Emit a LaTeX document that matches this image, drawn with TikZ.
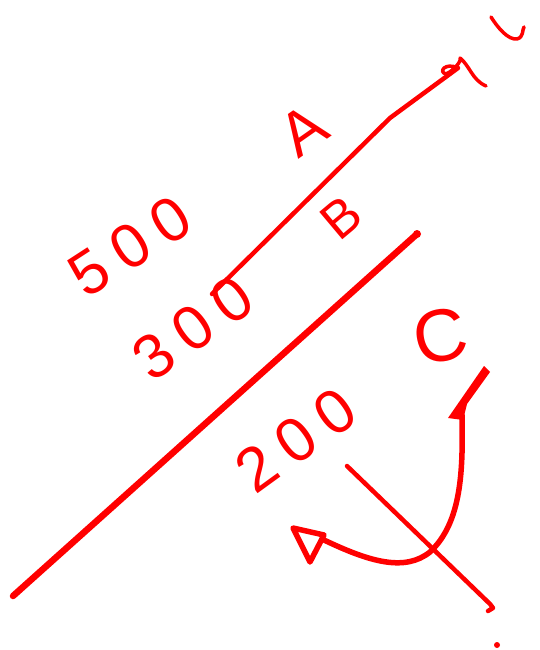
\documentclass[tikz,border=0pt]{standalone}
\usepackage{fontspec}
\setsansfont{Liberation Sans}
\tikzset{
  ink/.style={draw=red, line cap=round, line join=round},
  hand/.style={text=red, inner sep=0pt,
    font=\sffamily\fontsize{62}{62}\selectfont\addfontfeature{LetterSpace=22}}
}
\begin{document}
\begin{tikzpicture}[x=1pt, y=-1pt]
  \useasboundingbox (0,0) rectangle (539,650);
  % main strokes
  \draw[ink, line width=6.5pt] (13,596) -- (417,234);
  \fill[red] (417,234) circle (4pt);
  \draw[ink, line width=4.5pt] (212,294) -- (390,118) -- (458,68);
  \draw[ink, line width=3.5pt] (458,68) .. controls (445,62) and (438,72) .. (446,74)
    .. controls (455,70) and (462,60) .. (460,58)
    .. controls (470,66) and (472,80) .. (486,86);
  \draw[ink, line width=3.5pt] (491,17) .. controls (498,28) and (508,40) .. (517,39)
    .. controls (524,37) and (522,30) .. (524,27);
  % cross line
  \draw[ink, line width=4.5pt] (347,466) -- (490,604) -- (493,608) -- (488,611);
  % curved arrow
  \draw[ink, line width=5.5pt] (324,540) .. controls (370,562) and (405,572) .. (430,552)
    .. controls (462,522) and (463,470) .. (462,415);
  \fill[red] (448,418) -- (484,366) -- (490,372) -- (467,404) -- (463,420) -- cycle;
  \draw[ink, line width=5.5pt] (293,528) -- (324,535) -- (310,562) -- cycle;
  \fill[red] (497,645) circle (3pt);
  % labels
  \node[hand, rotate=33] (five) at (130,246) {500};
  \node[hand, rotate=36] (three) at (193,328) {300};
  \node[hand, rotate=36] (two) at (296,440) {200};
  \node[hand, rotate=35] (labA) at (303,130) {A};
  \node[hand, rotate=40, font=\sffamily\fontsize{52}{52}\selectfont] (labB) at (341,218) {B};
  \node[hand, rotate=12, font=\sffamily\fontsize{74}{74}\selectfont] (labC) at (440,336) {C};
\end{tikzpicture}
\end{document}
